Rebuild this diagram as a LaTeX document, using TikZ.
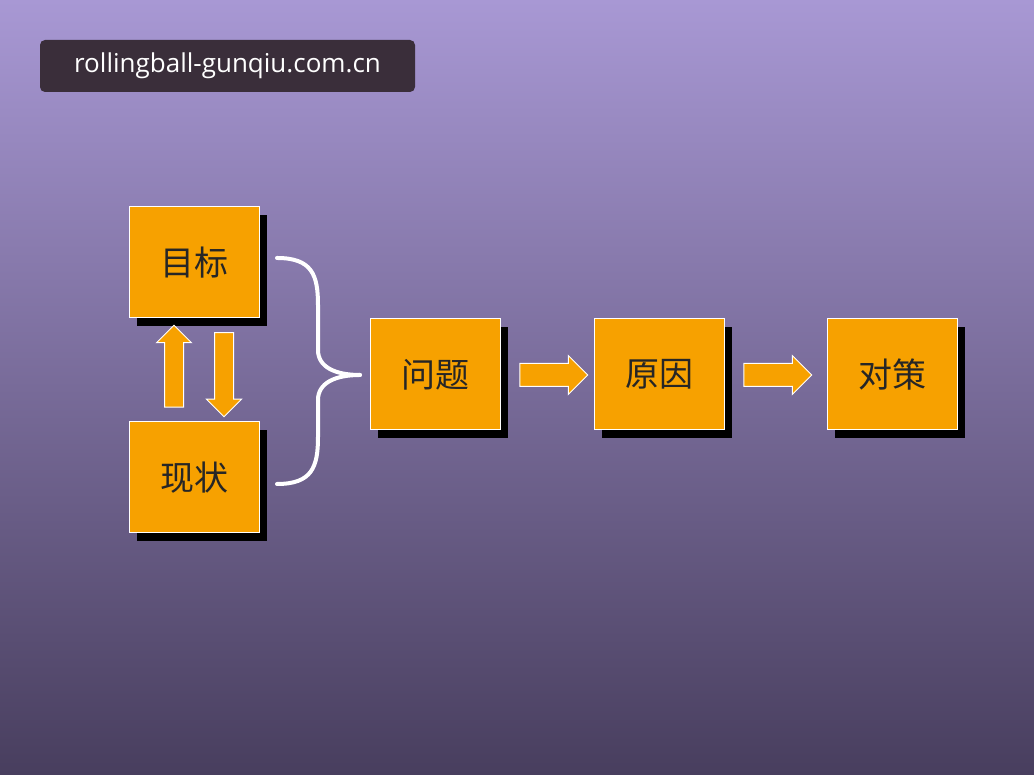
\documentclass[tikz,border=0pt]{standalone}
\usepackage{fontspec}
\setmainfont{Open Sans}
\newfontfamily\cjk{Noto Sans CJK SC}
\usetikzlibrary{shapes.arrows, positioning, shadows}
\definecolor{boxorange}{HTML}{F7A100}
\definecolor{tagdark}{HTML}{3A2E3A}

\begin{document}
\begin{tikzpicture}[x=1pt, y=1pt]
    % Define the styles
    \tikzset{
        block/.style = {draw=white, line width=1pt, fill=boxorange, minimum width=130pt, minimum height=111pt, font=\cjk\fontsize{34}{34}\selectfont, text=black!85, drop shadow={shadow xshift=8pt, shadow yshift=-8pt, fill=black, opacity=1}},
        barrow/.style = {single arrow, draw=white, line width=1pt, fill=boxorange, single arrow head extend=8pt, minimum height=68pt, inner sep=11pt, single arrow tip angle=90},
        brace/.style = {draw=white, line width=4pt, line cap=round},
    }

    % Background
    \shade[top color={rgb,255:red,168;green,152;blue,212}, bottom color={rgb,255:red,72;green,62;blue,94}] (0,0) rectangle (1034,775);
    \useasboundingbox (0,0) rectangle (1034,775);

    % Tag
    \node [fill=tagdark, rounded corners=5pt, minimum width=375pt, minimum height=52pt, text=white, font=\fontsize{26}{26}\selectfont] (tag) at (227.5,709) {rollingball-gunqiu.com.cn};

    % Nodes placement
    \node [block] (goal) at (194,512.5) {目标};
    \node [block] (state) at (194,297.5) {现状};
    \node [block] (problem) at (435,400.5) {问题};
    \node [block] (cause) at (659,400.5) {原因};
    \node [block] (measure) at (892,400.5) {对策};

    % Block arrows
    \node [barrow, shape border rotate=90, inner sep=9pt, minimum height=82pt] (up) at (174,404) {};
    \node [barrow, shape border rotate=270, inner sep=9pt, minimum height=84pt] (down) at (224,405) {};
    \node [barrow] (arr1) at (548,400) {};
    \node [barrow] (arr2) at (772,400) {};

    % Brace
    \coordinate (tip) at (360,400);
    \coordinate (btop) at (277,517);
    \coordinate (bbot) at (277,291);
    \draw [brace] (btop) .. controls (312,517) and (318,500) .. (318,470) -- (318,425) .. controls (318,408) and (335,400) .. (tip);
    \draw [brace] (bbot) .. controls (312,291) and (318,308) .. (318,338) -- (318,375) .. controls (318,392) and (335,400) .. (tip);
\end{tikzpicture}
\end{document}
